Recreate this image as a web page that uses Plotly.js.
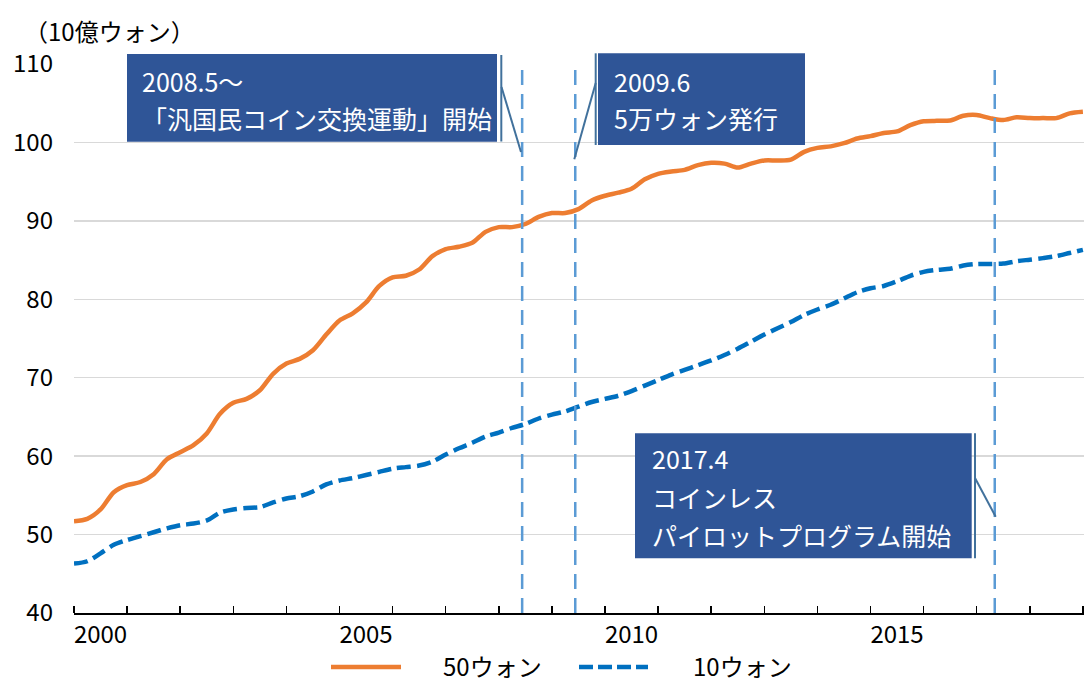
<!DOCTYPE html>
<html>
<head>
<meta charset="utf-8">
<script src="https://cdn.plot.ly/plotly-3.0.1.min.js"></script>
<style>
  html, body { margin: 0; padding: 0; background: #fff; }
  #chart { width: 1084px; height: 686px; }
</style>
</head>
<body>
<div id="chart"></div>
<script>
// ---- Data (quarterly, from 2000Q1) ----
const startYear = 2000;
const periodsPerYear = 4;
const seriesNames = ['50ウォン', '10ウォン'];
const coin50 = [
  51.7, 52.0, 53.2, 55.4, 56.3, 56.7, 57.7, 59.6, 60.5, 61.4,
  62.9, 65.4, 66.8, 67.3, 68.4, 70.5, 71.8, 72.4, 73.5, 75.5,
  77.3, 78.2, 79.6, 81.7, 82.8, 83.0, 83.8, 85.5, 86.4, 86.7,
  87.2, 88.6, 89.2, 89.2, 89.6, 90.5, 91.0, 91.0, 91.5, 92.6,
  93.2, 93.6, 94.1, 95.3, 96.0, 96.3, 96.5, 97.1, 97.4, 97.3,
  96.8, 97.3, 97.7, 97.7, 97.8, 98.8, 99.3, 99.5, 99.9, 100.5,
  100.8, 101.2, 101.4, 102.2, 102.7, 102.75, 102.8, 103.4, 103.5, 103.1,
  102.85, 103.2, 103.1, 103.1, 103.1, 103.7, 103.9
];
const coin10 = [
  46.3, 46.6, 47.6, 48.7, 49.3, 49.8, 50.3, 50.8, 51.2, 51.4,
  51.8, 52.8, 53.2, 53.4, 53.5, 54.1, 54.6, 54.9, 55.5, 56.4,
  56.9, 57.2, 57.6, 58.0, 58.4, 58.6, 58.8, 59.3, 60.2, 61.0,
  61.7, 62.5, 63.0, 63.6, 64.1, 64.8, 65.3, 65.7, 66.3, 66.9,
  67.3, 67.7, 68.3, 69.0, 69.7, 70.4, 71.0, 71.6, 72.2, 72.9,
  73.7, 74.6, 75.5, 76.3, 77.1, 78.0, 78.7, 79.3, 80.1, 80.9,
  81.4, 81.7, 82.3, 83.0, 83.5, 83.75, 83.9, 84.3, 84.5, 84.5,
  84.55, 84.85, 85.05, 85.25, 85.5, 85.9, 86.3
];
const tickYears = [2000, 2005, 2010, 2015];
const tickLabels = ['2000', '2005', '2010', '2015'];
const eventDates = [2008.44, 2009.44, 2017.34];
const eventTexts = [
  ['2008.5～', '「汎国民コイン交換運動」開始'],
  ['2009.6', '5万ウォン発行'],
  ['2017.4', 'コインレス', 'パイロットプログラム開始']
];
const yUnit = '（10億ウォン）';

// ---- Layout helpers (pixel -> paper) ----
const L = 74, R = 1084, T = 64, B = 613;
const PX = v => (v - L) / (R - L);
const PY = v => (B - v) / (B - T);

const xs = coin50.map((_, i) => startYear + i / periodsPerYear);
const FONT = '"Noto Sans CJK JP", "Noto Sans", sans-serif';
const colors = ['#ED7D31', '#0070C0'];

const traces = [
  { x: xs, y: coin50, type: 'scatter', mode: 'lines', name: seriesNames[0],
    line: { color: colors[0], width: 4.5, shape: 'spline', smoothing: 0.8 }, showlegend: false },
  { x: xs, y: coin10, type: 'scatter', mode: 'lines', name: seriesNames[1],
    line: { color: colors[1], width: 4.5, dash: '14px,6px', shape: 'spline', smoothing: 0.8 }, showlegend: false }
];

const shapes = [];
const annotations = [];

// event vertical lines
eventDates.forEach(d => {
  shapes.push({ type: 'line', xref: 'x', yref: 'y', x0: d, x1: d, y0: 40, y1: 110,
    line: { color: '#5B9BD5', width: 2.5, dash: '15px,9px' }, layer: 'above' });
});

// callout boxes (pixel geometry)
const boxes = [
  { x0: 127, x1: 497, y0: 54, y1: 141.7, vx: 501.3, vy0: 55, vy1: 141.5, s0: [501.5, 87], s1: [521, 152],
    tx: 140, ty: [81, 118] },
  { x0: 598, x1: 805, y0: 53.3, y1: 145, vx: 595.7, vy0: 53.3, vy1: 145, s0: [595.7, 83], s1: [574.3, 159.3],
    tx: 612, ty: [81, 117.5] },
  { x0: 635, x1: 971.7, y0: 433.3, y1: 558.3, vx: 975, vy0: 433.3, vy1: 558.3, s0: [975, 478], s1: [995.7, 516.7],
    tx: 650, ty: [458, 496.7, 535] }
];
boxes.forEach((b, k) => {
  shapes.push({ type: 'rect', xref: 'paper', yref: 'paper', x0: PX(b.x0), x1: PX(b.x1), y0: PY(b.y1), y1: PY(b.y0),
    fillcolor: '#2F5597', line: { width: 0 }, layer: 'above' });
  shapes.push({ type: 'line', xref: 'paper', yref: 'paper', x0: PX(b.vx), x1: PX(b.vx), y0: PY(b.vy0), y1: PY(b.vy1),
    line: { color: '#41719C', width: 2 }, layer: 'above' });
  shapes.push({ type: 'line', xref: 'paper', yref: 'paper', x0: PX(b.s0[0]), x1: PX(b.s1[0]), y0: PY(b.s0[1]), y1: PY(b.s1[1]),
    line: { color: '#41719C', width: 2 }, layer: 'above' });
  eventTexts[k].forEach((t, j) => {
    annotations.push({ xref: 'paper', yref: 'paper', x: PX(b.tx), y: PY(b.ty[j]), xanchor: 'left', yanchor: 'middle',
      text: t, showarrow: false, font: { family: FONT, size: 25, color: '#ffffff' } });
  });
});

// unit label
annotations.push({ xref: 'paper', yref: 'paper', x: PX(22), y: PY(30), xanchor: 'left', yanchor: 'middle',
  text: yUnit, showarrow: false, font: { family: FONT, size: 24, color: '#000' } });

// manual legend
const legendY = 665;
const legendItems = [
  { x0: 331, x1: 401, tx: 441, dash: 'solid' },
  { x0: 579, x1: 648, tx: 691, dash: '14px,5px' }
];
legendItems.forEach((it, k) => {
  shapes.push({ type: 'line', xref: 'paper', yref: 'paper', x0: PX(it.x0), x1: PX(it.x1), y0: PY(legendY + 2), y1: PY(legendY + 2),
    line: { color: colors[k], width: 4.5, dash: it.dash } });
  annotations.push({ xref: 'paper', yref: 'paper', x: PX(it.tx), y: PY(legendY), xanchor: 'left', yanchor: 'middle',
    text: seriesNames[k], showarrow: false, font: { family: FONT, size: 24, color: '#000' } });
});

const layout = {
  width: 1084, height: 686,
  margin: { l: L, r: 1084 - R, t: T, b: 686 - B, pad: 0 },
  paper_bgcolor: '#fff', plot_bgcolor: '#fff',
  font: { family: FONT, size: 24, color: '#000' },
  showlegend: false,
  xaxis: {
    range: [2000, 2000 + (R - L) / 53.1],
    tickmode: 'array', tickvals: tickYears.map(y => y + 0.5), ticktext: tickLabels,
    ticks: '', showgrid: false, zeroline: false,
    showline: true, linecolor: '#000', linewidth: 1.5,
    tickfont: { family: FONT, size: 24, color: '#000' },
    minor: { tick0: 2000, dtick: 1, ticks: 'inside', ticklen: 7, tickwidth: 1.5, tickcolor: '#000', showgrid: false },
    fixedrange: true
  },
  yaxis: {
    range: [40, 110], dtick: 10, tick0: 40,
    showgrid: true, gridcolor: '#D9D9D9', gridwidth: 1.5,
    zeroline: false, showline: false, ticks: '',
    ticklabelstandoff: 20,
    tickfont: { family: FONT, size: 24, color: '#000' },
    fixedrange: true
  },
  shapes: shapes,
  annotations: annotations
};

Plotly.newPlot('chart', traces, layout, { displayModeBar: false, staticPlot: true });
</script>
</body>
</html>
